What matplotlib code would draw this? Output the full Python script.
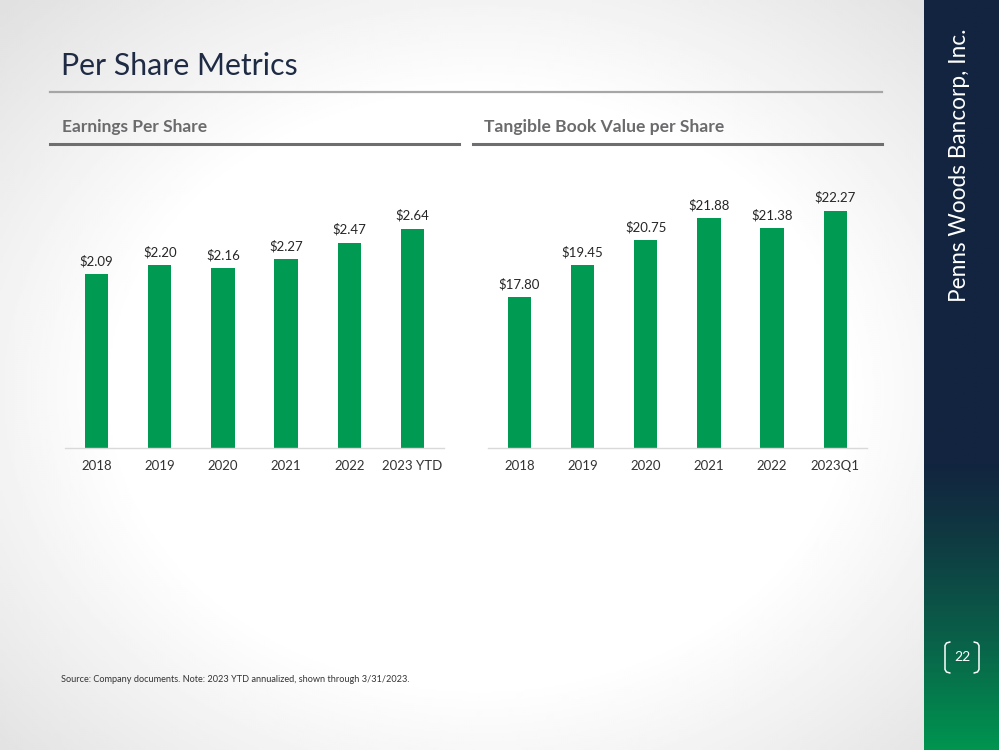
import numpy as np
import matplotlib
matplotlib.use("Agg")
import matplotlib.pyplot as plt
from matplotlib.colors import LinearSegmentedColormap

# ---- data ----
eps_categories = ["2018", "2019", "2020", "2021", "2022", "2023 YTD"]
eps_values = [2.09, 2.20, 2.16, 2.27, 2.47, 2.64]
tbv_categories = ["2018", "2019", "2020", "2021", "2022", "2023Q1"]
tbv_values = [17.80, 19.45, 20.75, 21.88, 21.38, 22.27]

title = "Per Share Metrics"
eps_title = "Earnings Per Share"
tbv_title = "Tangible Book Value per Share"
source_note = "Source: Company documents. Note: 2023 YTD annualized, shown through 3/31/2023."
company = "Penns Woods Bancorp, Inc."
page_no = "22"

FONT = ["Lato", "DejaVu Sans"]
plt.rcParams["font.family"] = FONT

W, H = 999, 750
fig = plt.figure(figsize=(W / 100, H / 100), dpi=100)

def px_axes(x0, y0, x1, y1, **kw):
    return fig.add_axes([x0 / W, 1 - y1 / H, (x1 - x0) / W, (y1 - y0) / H], **kw)

# background vignette
bg = px_axes(0, 0, W, H)
yy, xx = np.mgrid[0:H:2, 0:W:2]
d = np.sqrt(((xx - 480) / 520.0) ** 2 + ((yy - 390) / 420.0) ** 2)
shade = np.clip((d - 0.7) / 0.6, 0, 1)
img = 1 - 0.12 * shade
bg.imshow(img, cmap="gray", vmin=0, vmax=1, extent=[0, W, H, 0], aspect="auto", interpolation="bilinear")
bg.set_xlim(0, W)
bg.set_ylim(H, 0)
bg.axis("off")

# sidebar gradient
side = px_axes(924, 0, W, H)
cm = LinearSegmentedColormap.from_list("side", [(0, "#12243f"), (0.62, "#12243f"), (0.72, "#0f3a42"), (0.85, "#0a5f49"), (1.0, "#00944f")])
grad = np.linspace(0, 1, 400).reshape(-1, 1)
side.imshow(grad, cmap=cm, aspect="auto", extent=[0, 1, 1, 0])
side.axis("off")

# texts in figure pixel coords
def ftext(x, y, s, **kw):
    fig.text(x / W, 1 - y / H, s, **kw)

def fline(xs, ys, **kw):
    fig.add_artist(plt.Line2D([x / W for x in xs], [1 - y / H for y in ys], **kw))

ftext(61, 66, title, fontsize=21.8, color="#1f2b45", va="center", ha="left")
fline([50, 882], [91.5, 91.5], color="#a6a6a6", lw=1.6)
ftext(62, 127, eps_title, fontsize=12.5, fontweight="bold", color="#6b6b6d", va="center", ha="left")
ftext(484, 127, tbv_title, fontsize=12.6, fontweight="bold", color="#6b6b6d", va="center", ha="left")
fline([50, 459], [144, 144], color="#6e6e70", lw=2.2)
fline([473, 882], [144, 144], color="#6e6e70", lw=2.2)
ftext(61, 679, source_note, fontsize=6.6, color="#333333", va="center", ha="left")
ftext(959, 165, company, fontsize=16.3, color="white", rotation=90, va="center", ha="center")
ftext(962, 657, page_no, fontsize=10, color="white", va="center", ha="center")
# brackets around page number
fline([950, 946.5, 945, 945, 946.5, 950], [642, 643, 645.5, 669.5, 672, 673], color="white", lw=1.1, solid_capstyle="round")
fline([974, 977.5, 979, 979, 977.5, 974], [642, 643, 645.5, 669.5, 672, 673], color="white", lw=1.1, solid_capstyle="round")

BAR = "#009a52"

def bar_chart(ax, cats, vals, ylo, yhi):
    x = np.arange(len(cats))
    ax.bar(x, vals, width=0.37, color=BAR, zorder=2)
    ax.set_xlim(-0.5, len(cats) - 0.5)
    ax.set_ylim(ylo, yhi)
    for xi, v in zip(x, vals):
        ax.annotate(f"${v:.2f}", (xi, v), xytext=(0, 5), textcoords="offset points",
                    ha="center", va="bottom", fontsize=9.5, color="#262626")
    ax.set_xticks(x)
    ax.set_xticklabels(cats, fontsize=9.5, color="#333333")
    ax.tick_params(axis="x", length=0, pad=9)
    ax.set_yticks([])
    for s in ["top", "right", "left"]:
        ax.spines[s].set_visible(False)
    ax.spines["bottom"].set_color("#d9d9d9")
    ax.spines["bottom"].set_linewidth(1)
    ax.patch.set_alpha(0)

eps_top = 447.7 - 3.0 * 83.0
ax1 = px_axes(65, eps_top, 444, 447.7)
bar_chart(ax1, eps_categories, eps_values, 0, 3.0)

tbv_top = 447.7 - 13 * 19.3
ax2 = px_axes(487.7, tbv_top, 867, 447.7)
bar_chart(ax2, tbv_categories, tbv_values, 10, 23)

fig.savefig("out.png", dpi=100)
